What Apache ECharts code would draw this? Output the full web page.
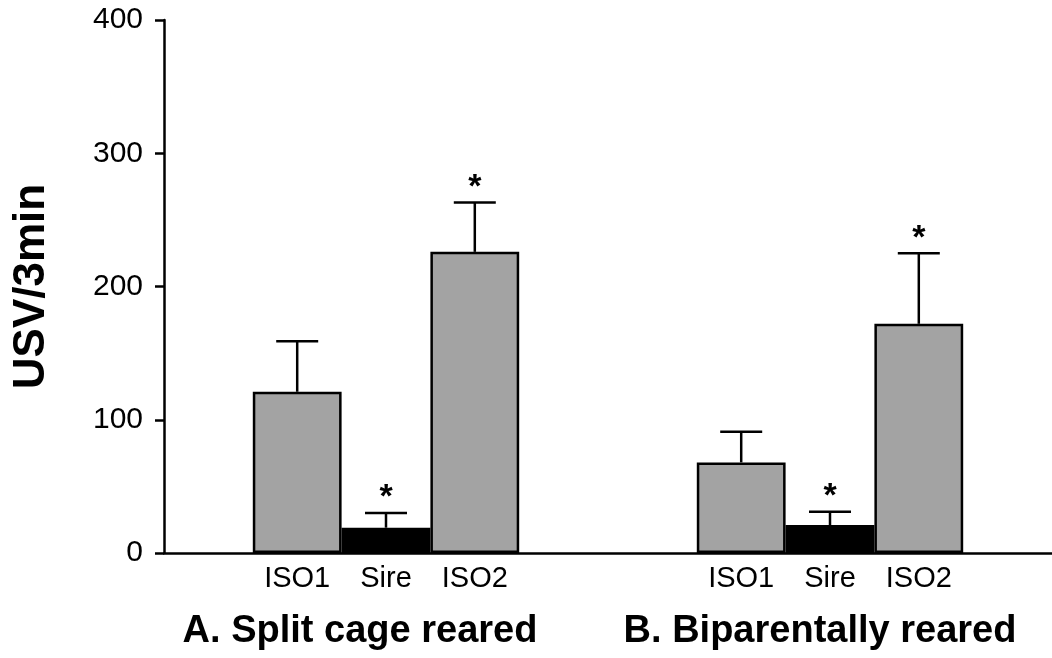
<!DOCTYPE html>
<html>
<head>
<meta charset="utf-8">
<script src="https://cdn.jsdelivr.net/npm/echarts@6/dist/echarts.min.js"></script>
<style>
  html, body { margin: 0; padding: 0; background: #fff; }
  #chart { width: 1052px; height: 658px; }
</style>
</head>
<body>
<div id="chart"></div>
<script>
// Rearing groups and the three test conditions inside each group
const groups = ['A. Split cage reared', 'B. Biparentally reared'];
const conditions = ['ISO1', 'Sire', 'ISO2'];

// Mean USV per 3 min and the top of each error bar (mean + SEM)
const meanA = [121, 19, 226];
const upperA = [159, 30, 263];
const meanB = [68, 21, 172];
const upperB = [91, 31, 225];

// Significance marks (*) per condition
const sigA = [false, true, true];
const sigB = [false, true, true];

// Y axis range
const yMin = 0;
const yMax = 400;
const yStep = 100;

const FONT = '"Liberation Sans", Arial, Helvetica, sans-serif';
const GREY = '#a3a3a3';

// Slots along the x axis: blank, group A, two blanks, group B, blank
const slots = [];
const slotLabel = [];
const means = [];
const uppers = [];
const sigs = [];
function addBlank(key) {
  slots.push(key); slotLabel.push(''); means.push(null); uppers.push(null); sigs.push(false);
}
function addGroup(tag, m, u, s) {
  conditions.forEach(function (c, i) {
    slots.push(tag + '-' + c); slotLabel.push(c);
    means.push(m[i]); uppers.push(u[i]); sigs.push(s[i]);
  });
}
addBlank('pad0');
addGroup('A', meanA, upperA, sigA);
addBlank('pad1');
addBlank('pad2');
addGroup('B', meanB, upperB, sigB);
addBlank('pad3');

const barData = means.map(function (v, i) {
  if (v === null) return null;
  return {
    value: v,
    itemStyle: { color: slotLabel[i] === 'Sire' ? '#000000' : GREY }
  };
});

const errData = [];
means.forEach(function (v, i) {
  if (v !== null) errData.push([i, v, uppers[i], sigs[i] ? 1 : 0]);
});

const chart = echarts.init(document.getElementById('chart'), null, { renderer: 'canvas' });

chart.setOption({
  backgroundColor: '#ffffff',
  animation: false,
  grid: { left: 164, right: 0, top: 20, bottom: 105, containLabel: false },
  xAxis: {
    type: 'category',
    data: slots,
    axisLine: { show: true, lineStyle: { color: '#000', width: 2.5 } },
    axisTick: { show: false },
    axisLabel: {
      interval: 0,
      margin: 11,
      color: '#000',
      fontFamily: FONT,
      fontSize: 29,
      formatter: function (val, idx) { return slotLabel[idx]; }
    },
    splitLine: { show: false }
  },
  yAxis: {
    type: 'value',
    min: yMin,
    max: yMax,
    interval: yStep,
    name: 'USV/3min',
    nameLocation: 'middle',
    nameGap: 110,
    nameTextStyle: {
      fontFamily: FONT,
      fontSize: 44,
      fontWeight: 'bold',
      color: '#000'
    },
    axisLine: { show: true, lineStyle: { color: '#000', width: 2.5 } },
    axisTick: { show: true, inside: false, length: 9, lineStyle: { color: '#000', width: 2.5 } },
    axisLabel: {
      margin: 21,
      color: '#000',
      fontFamily: FONT,
      fontSize: 30
    },
    splitLine: { show: false }
  },
  series: [
    {
      type: 'bar',
      data: barData,
      barCategoryGap: '0%',
      barWidth: '100%',
      itemStyle: { borderColor: '#000', borderWidth: 2.5 },
      z: 2
    },
    {
      type: 'custom',
      data: errData,
      z: 3,
      renderItem: function (params, api) {
        const x = api.value(0);
        const base = api.coord([x, api.value(1)]);
        const top = api.coord([x, api.value(2)]);
        const capHalf = 21;
        const style = { stroke: '#000', lineWidth: 2.5 };
        const children = [
          { type: 'line', shape: { x1: base[0], y1: base[1], x2: top[0], y2: top[1] }, style: style },
          { type: 'line', shape: { x1: top[0] - capHalf, y1: top[1], x2: top[0] + capHalf, y2: top[1] }, style: style }
        ];
        if (api.value(3) === 1) {
          children.push({
            type: 'text',
            style: {
              x: top[0],
              y: top[1] - 15,
              text: '*',
              fill: '#000',
              font: 'bold 34px ' + FONT,
              align: 'center',
              verticalAlign: 'middle'
            }
          });
        }
        return { type: 'group', children: children };
      }
    }
  ],
  graphic: [
    {
      type: 'text',
      style: {
        x: 360, y: 632,
        text: groups[0],
        font: 'bold 38px ' + FONT,
        fill: '#000',
        align: 'center',
        verticalAlign: 'middle'
      }
    },
    {
      type: 'text',
      style: {
        x: 820, y: 632,
        text: groups[1],
        font: 'bold 38px ' + FONT,
        fill: '#000',
        align: 'center',
        verticalAlign: 'middle'
      }
    }
  ]
});
</script>
</body>
</html>
